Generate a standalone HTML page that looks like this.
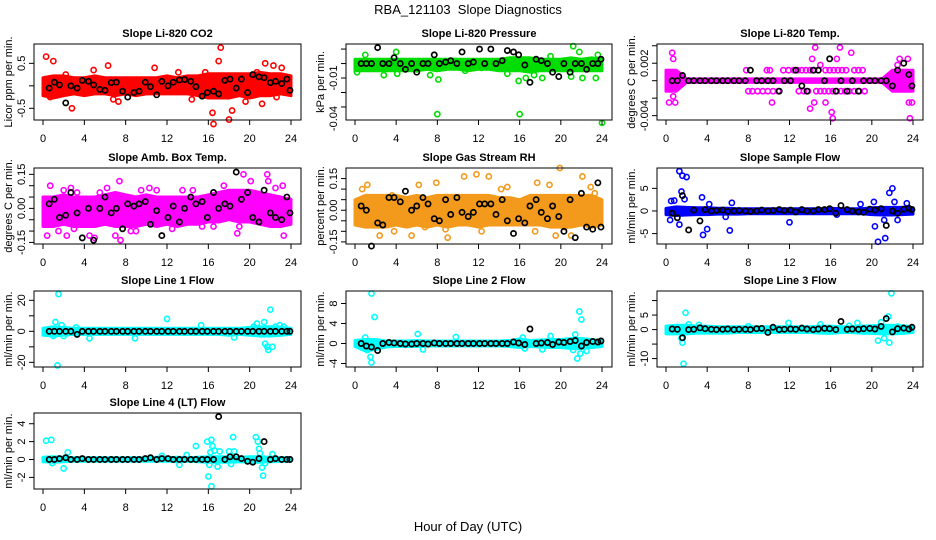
<!DOCTYPE html>
<html><head><meta charset="utf-8"><style>
html,body{margin:0;padding:0;background:#fff;}
svg{display:block;font-family:"Liberation Sans",sans-serif;}
</style></head><body>
<svg id="chart" width="936" height="540" viewBox="0 0 936 540" xmlns="http://www.w3.org/2000/svg">
<text x="468" y="14" text-anchor="middle" font-size="13">RBA_121103&#160; Slope Diagnostics</text>
<text x="468" y="531" text-anchor="middle" font-size="13">Hour of Day (UTC)</text>
</svg>
<script>
const hoursEnv=[0,1,2,3,4,5,6,7,8,9,10,11,12,13,14,15,16,17,18,19,20,21,22,23,24];
const hoursBlack=[0.6,1.1,1.6,2.2,2.7,3.3,3.8,4.4,4.9,5.5,6.0,6.6,7.1,7.7,8.2,8.8,9.3,9.9,10.4,11.0,11.5,12.1,12.6,13.2,13.7,14.3,14.8,15.4,15.9,16.5,17.0,17.6,18.1,18.7,19.2,19.8,20.3,20.9,21.4,22.0,22.5,23.1,23.6,23.9];
const xTicks=[0,4,8,12,16,20,24];

const co2Lo=[-0.22,-0.27,-0.22,-0.18,-0.22,-0.18,-0.18,-0.22,-0.18,-0.22,-0.18,-0.18,-0.18,-0.18,-0.18,-0.22,-0.27,-0.27,-0.27,-0.22,-0.27,-0.22,-0.22,-0.18,-0.22];
const co2Hi=[0.18,0.22,0.22,0.18,0.18,0.22,0.18,0.18,0.18,0.18,0.18,0.18,0.22,0.18,0.22,0.22,0.27,0.27,0.27,0.27,0.27,0.3,0.27,0.27,0.22];
const co2PtX=[0.3,1.0,0.7,2.8,6.3,6.8,10.8,15.7,16.4,16.5,17.0,17.2,18.3,18.0,20.7,21.2,21.5,22.3,23.1,22.6,7.3,4.9,2.2,13.1,14.4,19.6];
const co2PtY=[0.65,0.55,-0.25,-0.5,0.45,-0.3,0.4,0.3,-0.6,-0.85,0.55,0.85,-0.55,-0.75,0.3,-0.4,0.5,0.45,0.4,-0.25,-0.35,0.35,0.25,0.3,-0.3,-0.35];
const co2Black=[-0.05,0.08,0.02,-0.38,0.0,-0.05,0.12,0.1,0.02,-0.08,-0.1,0.07,0.08,-0.12,-0.25,-0.15,-0.12,0.08,-0.02,-0.2,0.1,0.0,0.08,0.13,0.14,0.1,-0.02,-0.23,-0.15,-0.12,-0.18,0.12,0.15,-0.05,0.15,-0.15,0.25,0.2,0.18,0.07,0.1,0.05,0.15,-0.1];
const co2Ticks=[-0.5,0,0.5];
const co2TickLabels=["-0.5","","0.5"];

const presLo=[-0.005,-0.005,-0.005,-0.005,-0.005,-0.005,-0.005,-0.004,-0.005,-0.004,-0.004,-0.005,-0.004,-0.004,-0.005,-0.005,-0.005,-0.006,-0.005,-0.005,-0.005,-0.005,-0.005,-0.005,-0.005];
const presHi=[0.003,0.003,0.003,0.003,0.003,0.003,0.003,0.003,0.003,0.003,0.003,0.003,0.003,0.003,0.003,0.004,0.004,0.004,0.003,0.003,0.003,0.004,0.003,0.004,0.003];
const presPtX=[8,16,24,0.2,1.0,2.8,4.0,4.1,7.3,8.1,15.9,16.6,17.4,18.2,21.2,21.8,22.1,23.4,23.6,21.0,10.7,14.8,12.3,19.0,6.0];
const presPtY=[-0.035,-0.035,-0.041,-0.006,0.006,-0.008,0.008,-0.007,-0.008,-0.011,-0.012,-0.01,-0.008,-0.01,0.012,0.008,-0.01,-0.01,0.006,-0.009,-0.005,-0.007,-0.003,0.005,-0.004];
const presBlack=[0,0,0,0.011,0,0,0.004,0,-0.004,0,-0.006,0,0,0.006,0,0.001,0.002,0,0.008,0,0.001,0.01,0,0.01,0,0.002,0.009,0.008,0.006,-0.001,-0.013,0.003,0.002,0,-0.006,-0.009,0,-0.006,0,0,-0.004,0,0,0.003];
const presTicks=[0.01,0,-0.01,-0.02,-0.03];
const presTickLabels=["","","-0.01","",""];

const tempLo=[-0.0012,-0.0012,-0.0002,-0.0002,-0.0002,-0.0002,-0.0002,-0.0002,-0.0002,-0.0002,-0.0002,-0.0002,-0.0002,-0.0002,-0.0002,-0.0002,-0.0002,-0.0002,-0.0002,-0.0002,-0.0002,-0.0002,-0.0012,-0.0012,-0.0012];
const tempHi=[0.0012,0.0012,0.0002,0.0002,0.0002,0.0002,0.0002,0.0002,0.0002,0.0002,0.0002,0.0002,0.0002,0.0002,0.0002,0.0002,0.0002,0.0002,0.0002,0.0002,0.0002,0.0002,0.0012,0.0012,0.0012];
const tempPtX=[7.8,9.8,10.1,11.4,11.9,12.4,12.8,13.2,13.6,14.0,14.4,14.8,15.5,15.9,16.3,16.7,17.1,17.5,18.3,18.7,19.1,8.0,8.4,8.9,9.4,9.9,10.4,10.9,12.9,13.4,13.8,14.6,15.0,15.4,15.8,16.2,16.6,17.0,17.4,17.8,18.3,18.8,19.3,0.6,0.7,0.7,0.3,0.9,10.3,14.2,14.5,14.0,14.4,15.5,16.1,16.2,16.9,18.0,16.6,22.7,23.5,23.7,23.6,23.9,22.5,15.0];
const tempPtY=[0.0012,0.0012,0.0012,0.0012,0.0012,0.0012,0.0012,0.0012,0.0012,0.0012,0.0012,0.0012,0.0012,0.0012,0.0012,0.0012,0.0012,0.0012,0.0012,0.0012,0.0012,-0.0012,-0.0012,-0.0012,-0.0012,-0.0012,-0.0012,-0.0012,-0.0012,-0.0012,-0.0012,-0.0012,-0.0012,-0.0012,-0.0012,-0.0012,-0.0012,-0.0012,-0.0012,-0.0012,-0.0012,-0.0012,-0.0012,0.0032,0.0025,-0.0018,-0.0025,-0.0025,-0.0025,0.0025,0.0038,-0.0032,-0.0025,-0.0025,-0.0036,-0.0043,0.0038,0.0032,0.0025,0.0025,0.0025,-0.0043,-0.0025,-0.0025,0.0018,0.0018];
const tempBlack=[0,0,0.0006,0,0,0,0,0,0,0,0,0,0,0,0.0012,0,0,0,0,-0.0012,0,0,0.0012,-0.0006,-0.0012,0.0012,0.0012,0,0.0025,-0.0012,0,-0.0012,0,-0.0012,0,0,0,0,0,-0.0006,0.0012,0.002,0.0007,-0.0006];
const tempTicks=[0.004,0.002,0,-0.002,-0.004];
const tempTickLabels=["","0.002","","","-0.004"];

const ambLo=[-0.08,-0.08,-0.07,-0.08,-0.08,-0.08,-0.07,-0.08,-0.08,-0.08,-0.07,-0.08,-0.07,-0.08,-0.07,-0.07,-0.06,-0.06,-0.05,-0.06,-0.06,-0.07,-0.08,-0.08,-0.07];
const ambHi=[0.05,0.05,0.06,0.05,0.05,0.05,0.06,0.07,0.06,0.05,0.06,0.05,0.05,0.05,0.05,0.05,0.06,0.07,0.08,0.08,0.08,0.07,0.06,0.05,0.04];
const ambPtX=[0.4,0.7,2.0,2.3,2.7,3.3,4.5,5.0,7.4,7.5,7.0,10.3,15.4,18.8,19.4,21.7,21.8,23.2,23.3,20.1,19.0,6.2,12.5,9.5,14.5,1.5,3.0,8.5,11.0,13.5,16.5,17.5,22.5,5.5,9.0];
const ambPtY=[-0.12,0.1,0.08,-0.12,0.09,0.07,-0.12,-0.13,0.12,-0.14,-0.12,0.09,-0.08,-0.11,0.15,0.15,0.12,0.1,-0.12,0.12,-0.08,0.09,-0.09,0.08,0.08,-0.1,-0.09,-0.1,0.08,0.08,-0.08,0.1,0.09,0.07,-0.1];
const ambBlack=[0.02,0.04,-0.04,-0.03,0.07,-0.02,-0.13,0.0,-0.14,0.0,0.05,-0.02,0.0,-0.09,0.02,0.01,0.02,0.03,-0.07,-0.01,-0.12,-0.04,0.01,-0.06,0.0,0.05,0.02,0.03,-0.04,0.07,0.0,0.02,0.01,0.16,0.04,0.07,-0.04,-0.06,0.08,-0.02,-0.04,-0.05,0.05,-0.02];
const ambTicks=[-0.15,-0.1,-0.05,0,0.05,0.1,0.15];
const ambTickLabels=["-0.15","","","0.00","","","0.15"];

const rhLo=[-0.07,-0.08,-0.08,-0.08,-0.07,-0.08,-0.07,-0.08,-0.07,-0.08,-0.07,-0.07,-0.08,-0.07,-0.07,-0.07,-0.07,-0.07,-0.07,-0.08,-0.08,-0.08,-0.07,-0.08,-0.07];
const rhHi=[0.05,0.07,0.07,0.07,0.07,0.06,0.07,0.06,0.07,0.07,0.07,0.07,0.07,0.07,0.06,0.06,0.05,0.07,0.07,0.07,0.07,0.07,0.07,0.07,0.05];
const rhPtX=[0.7,1.2,2.4,3.6,3.8,5.5,6.2,6.8,7.9,8.8,9.0,10.6,11.8,12.3,13.0,14.2,14.8,17.7,17.5,18.9,19.5,19.9,20.4,22.1,22.9,23.3,21.0,4.2];
const rhPtY=[0.1,0.12,-0.12,0.07,-0.1,-0.12,0.12,-0.08,0.13,-0.09,-0.13,0.16,0.17,-0.1,0.16,0.1,0.11,0.13,-0.1,0.12,-0.12,0.2,-0.08,0.16,0.11,0.08,-0.12,0.02];
const rhBlack=[0.02,0.0,-0.17,-0.06,-0.07,0.06,0.06,0.04,0.09,0.0,0.02,0.06,0.03,-0.04,-0.05,0.05,-0.02,0.06,-0.01,-0.03,-0.01,0.03,0.03,0.03,-0.02,0.05,-0.05,-0.11,-0.04,-0.06,0.02,0.05,-0.01,-0.04,0.02,-0.03,-0.1,0.05,-0.13,0.08,-0.08,-0.09,0.13,-0.08];
const rhTicks=[-0.15,-0.1,-0.05,0,0.05,0.1,0.15];
const rhTickLabels=["-0.15","","","0.00","","","0.15"];

const sampLo=[-0.8,-1.0,-0.9,-0.8,-0.8,-0.7,-0.7,-0.7,-0.6,-0.6,-0.6,-0.6,-0.6,-0.6,-0.6,-0.6,-0.6,-0.6,-0.6,-0.6,-0.8,-0.9,-0.9,-0.8,-0.7];
const sampHi=[0.6,0.9,0.8,0.7,0.7,0.6,0.6,0.5,0.5,0.5,0.5,0.5,0.5,0.5,0.5,0.5,0.6,0.5,0.5,0.5,0.7,0.8,0.8,0.8,0.7];
const sampPtX=[1.3,1.6,2.0,1.5,1.8,3.5,4.2,0.5,0.8,0.4,1.3,3.6,4.0,6.2,6.4,12.0,20.2,20.3,20.6,21.3,21.7,22.0,22.2,21.2,22.5,23.4,18.9,5.8,16.6];
const sampPtY=[8.8,7.8,7.5,4.3,2.6,3.0,1.5,2.2,2.3,-2.0,-3.0,-5.3,-4.0,-4.3,1.8,-2.5,2.0,-3.4,-6.8,-6.0,4.0,5.0,2.0,-2.0,-2.0,1.7,1.5,-1.3,-0.8];
const sampBlack=[-0.5,-1.5,3.4,-4.2,0.2,-2.2,0.3,0.0,0.1,0.2,-0.1,0.0,0.1,0.0,-0.1,0.0,0.2,0.0,0.1,0.3,0.1,0.2,-0.2,0.3,0.0,0.0,0.3,0.3,0.5,-0.5,1.2,0.3,0.0,-0.2,-0.3,0.4,0.2,0.5,-3.2,0.0,-0.5,0.4,0.6,0.3];
const sampTicks=[-5,0,5];
const sampTickLabels=["-5","0","5"];

const l1Lo=[-2.5,-3,-2.5,-2,-2,-2,-2,-2,-2,-2,-2,-2,-2,-2,-2,-2,-2,-2,-2.5,-2,-2.5,-3,-3,-2.5,-2];
const l1Hi=[2,3,2.5,2,2,2,2,2,2,2,2,2,2,2,2,2,2,2,2,2,2.5,3,3,2.5,2];
const l1PtX=[1.5,1.4,1.2,1.8,3.2,4.5,8.9,12.0,15.3,18.5,20.7,21.4,21.5,21.8,21.7,22.0,22.2,22.5,22.9,23.3,20.4,1.0,2.0];
const l1PtY=[24,-22,6,4,2.5,-4.5,-4.5,8,4,-4,5,6,-8,-12,-10,14,-10,3,4,3,3,-3,-3];
const l1Black=[0,0,0,0,0,-2,0,0,0,0,0,0,0,0,0,0,0,0,0,0,0,0,0,0,0,0,0,0,0,0,0,0,0,0,0,0,0,0,0,0,0,0,0,0];
const l1Ticks=[-20,-10,0,10,20];
const l1TickLabels=["-20","","0","","20"];

const l2Lo=[-0.6,-1.5,-1.2,-0.7,-0.6,-0.6,-0.6,-0.5,-0.5,-0.5,-0.5,-0.5,-0.5,-0.5,-0.5,-0.6,-0.8,-0.6,-0.7,-0.8,-0.8,-1.0,-1.0,-0.8,-0.6];
const l2Hi=[0.6,0.8,0.8,0.5,0.5,0.5,0.6,0.5,0.5,0.5,0.5,0.5,0.5,0.5,0.5,0.6,0.9,0.6,0.7,0.8,0.8,1.0,1.0,0.8,0.6];
const l2PtX=[1.6,1.9,1.5,1.6,1.2,1.0,6.1,6.6,16.3,16.5,19.0,21.8,22.0,21.4,21.6,21.9,22.5,21.2,18.2,9.8];
const l2PtY=[10,5.3,-2.7,-3.8,-1.3,1.2,1.9,-1.2,1.2,-1.0,1.5,6.4,4.8,1.8,-3.0,-2.0,-1.5,-1.3,-1.2,1.3];
const l2Black=[0,-0.5,-0.7,-1.4,0,0.2,0.1,0,-0.1,-0.1,0,0,-0.1,0.1,0,0,0,0,0,0,0,0,0,0,0,0,0,0.3,0.1,-0.2,2.9,0,0.1,0.2,-0.2,0.3,0.2,0.4,0.6,-0.5,0.2,0.4,0.3,0.5];
const l2Ticks=[-4,0,4,8];
const l2TickLabels=["-4","0","4","8"];

const l3Lo=[-1.5,-1.5,-1.5,-1.2,-1.2,-1.2,-1.2,-1,-1,-1,-1,-1,-1,-1,-1,-1.2,-1.3,-1,-1,-1.2,-1.3,-1.5,-1.5,-1.3,-1];
const l3Hi=[1.2,1.5,1.5,1.2,1.2,1,1,1,1,1,1,1,1,1,1,1.2,1.2,1,1,1.2,1.3,1.5,1.5,1.3,1];
const l3PtX=[1.7,1.6,1.5,1.9,2.2,3.2,11.9,15.0,17.8,18.6,20.6,20.9,21.2,21.6,21.7,21.9,8.0,22.5];
const l3PtY=[-11.8,-4.5,-3,5.8,1.8,1.6,2.3,1.8,1.3,2.3,-3.8,2.5,-3,4.5,-4.5,12.5,1.1,1.0];
const l3Black=[0.2,0.1,-2.8,0,0.1,0.6,0.3,0.1,0,0.1,0.2,0,0.1,0.1,0,0.3,0.4,-1,0.8,0,0.1,0.2,0.1,0.5,0.2,0,0.2,0.4,0.3,0,2.8,0.1,0.2,0.1,0.3,0.4,0.2,1.1,3.8,-0.8,0.3,0.5,0.2,0.8];
const l3Ticks=[-10,-5,0,5,10];
const l3TickLabels=["-10","","0","5",""];

const l4Lo=[-0.25,-0.3,-0.25,-0.2,-0.2,-0.2,-0.2,-0.2,-0.2,-0.2,-0.2,-0.2,-0.2,-0.25,-0.2,-0.25,-0.3,-0.3,-0.3,-0.25,-0.3,-0.3,-0.25,-0.2,-0.2];
const l4Hi=[0.25,0.3,0.25,0.2,0.2,0.2,0.2,0.2,0.2,0.2,0.2,0.25,0.2,0.25,0.2,0.25,0.3,0.3,0.3,0.25,0.3,0.3,0.25,0.2,0.2];
const l4PtX=[0.3,0.8,2.0,2.4,0.9,11.5,13.2,13.9,14.8,15.9,16.1,16.0,16.3,16.2,16.3,16.4,16.6,16.9,17.1,18.0,18.2,18.4,18.5,20.6,20.8,20.9,21.0,21.2,21.3,21.5,22.2,19.8];
const l4PtY=[2.1,2.2,-1.0,0.8,-0.4,0.4,-0.6,0.5,1.5,2.0,-0.6,-1.9,-3.0,0.8,2.2,1.5,1.0,-0.8,0.9,0.9,-0.5,2.5,0.9,2.5,2.0,1.2,0.7,-0.9,-1.8,-0.4,0.6,-0.2];
const l4Black=[0,0,0.1,0.2,0,0,0.1,0,0,0,0,0,0,0,0,0,0,0.1,0.2,0,0.1,0.1,0,0,0,0,0,0,0,0,4.8,0,0.3,0.3,0.1,-0.2,-0.3,0.1,2.0,0,0.1,0,0,0];
const l4Ticks=[-2,0,2,4];
const l4TickLabels=["-2","0","2","4"];

const NS="http://www.w3.org/2000/svg";
const svg=document.getElementById('chart');
const colLeft=[34,346,657], colRight=[301,612,923];
const rowTop=[44,168,291,413], rowBot=[120,244,367,489];

const panels=[
 {key:'co2',title:'Slope Li-820 CO2',ylab:'Licor ppm per min.',c:0,r:0,dom:[-0.76,0.93],color:'#ff0000',lo:co2Lo,hi:co2Hi,px:co2PtX,py:co2PtY,blk:co2Black,ticks:co2Ticks,labs:co2TickLabels},
 {key:'pressure',title:'Slope Li-820 Pressure',ylab:'kPa per min.',c:1,r:0,dom:[-0.039,0.0135],color:'#00dd00',lo:presLo,hi:presHi,px:presPtX,py:presPtY,blk:presBlack,ticks:presTicks,labs:presTickLabels,extraLab:[-0.038,'-0.04']},
 {key:'temp',title:'Slope Li-820 Temp.',ylab:'degrees C per min.',c:2,r:0,dom:[-0.0045,0.0042],color:'#ff00ff',lo:tempLo,hi:tempHi,px:tempPtX,py:tempPtY,blk:tempBlack,ticks:tempTicks,labs:tempTickLabels},
 {key:'amb-temp',title:'Slope Amb. Box Temp.',ylab:'degrees C per min.',c:0,r:1,dom:[-0.157,0.178],color:'#ff00ff',lo:ambLo,hi:ambHi,px:ambPtX,py:ambPtY,blk:ambBlack,ticks:ambTicks,labs:ambTickLabels},
 {key:'rh',title:'Slope Gas Stream RH',ylab:'percent per min.',c:1,r:1,dom:[-0.16,0.2],color:'#f39a1c',lo:rhLo,hi:rhHi,px:rhPtX,py:rhPtY,blk:rhBlack,ticks:rhTicks,labs:rhTickLabels},
 {key:'sample-flow',title:'Slope Sample Flow',ylab:'ml/min per min.',c:2,r:1,dom:[-7.3,9.5],color:'#0000ff',lo:sampLo,hi:sampHi,px:sampPtX,py:sampPtY,blk:sampBlack,ticks:sampTicks,labs:sampTickLabels},
 {key:'line1-flow',title:'Slope Line 1 Flow',ylab:'ml/min per min.',c:0,r:2,dom:[-23,26],color:'#00ffff',lo:l1Lo,hi:l1Hi,px:l1PtX,py:l1PtY,blk:l1Black,ticks:l1Ticks,labs:l1TickLabels},
 {key:'line2-flow',title:'Slope Line 2 Flow',ylab:'ml/min per min.',c:1,r:2,dom:[-4.7,10.5],color:'#00ffff',lo:l2Lo,hi:l2Hi,px:l2PtX,py:l2PtY,blk:l2Black,ticks:l2Ticks,labs:l2TickLabels},
 {key:'line3-flow',title:'Slope Line 3 Flow',ylab:'ml/min per min.',c:2,r:2,dom:[-12.9,13.3],color:'#00ffff',lo:l3Lo,hi:l3Hi,px:l3PtX,py:l3PtY,blk:l3Black,ticks:l3Ticks,labs:l3TickLabels},
 {key:'line4-flow',title:'Slope Line 4 (LT) Flow',ylab:'ml/min per min.',c:0,r:3,dom:[-3.3,5.2],color:'#00ffff',lo:l4Lo,hi:l4Hi,px:l4PtX,py:l4PtY,blk:l4Black,ticks:l4Ticks,labs:l4TickLabels}
];

function mk(tag,attrs,parent,text){const e=document.createElementNS(NS,tag);for(const k in attrs)e.setAttribute(k,attrs[k]);if(text!==undefined)e.textContent=text;(parent||svg).appendChild(e);return e;}

panels.forEach(p=>{
 const L=colLeft[p.c],R=colRight[p.c],T=rowTop[p.r],B=rowBot[p.r];
 const xs=h=>L+9+(R-10-(L+9))*h/24;
 const ys=v=>B-(v-p.dom[0])/(p.dom[1]-p.dom[0])*(B-T);
 const g=mk('g',{});
 
 
 const t=mk('text',{x:(L+R)/2,y:T-7,'text-anchor':'middle','font-size':11,'font-weight':'bold'},g,p.title);
 
 
 let d='';
 hoursEnv.forEach((h,i)=>{d+=(i?'L':'M')+xs(h).toFixed(1)+','+ys(p.hi[i]).toFixed(1);});
 for(let i=hoursEnv.length-1;i>=0;i--){d+='L'+xs(hoursEnv[i]).toFixed(1)+','+ys(p.lo[i]).toFixed(1);}
 d+='Z';
 const env=mk('path',{d:d,fill:p.color,stroke:p.color,'stroke-width':3,'stroke-linejoin':'round'},g);
 
 
 for(let i=0;i<Math.min(p.px.length,p.py.length);i++){
  const c=mk('circle',{cx:xs(p.px[i]),cy:ys(p.py[i]),r:2.6,fill:'none',stroke:p.color,'stroke-width':1.6},g);
  
  
 }
 for(let i=0;i<Math.min(hoursBlack.length,p.blk.length);i++){
  const c=mk('circle',{cx:xs(hoursBlack[i]),cy:ys(p.blk[i]),r:2.6,fill:'none',stroke:'#000','stroke-width':1.7},g);
  
  
 }
 const box=mk('rect',{x:L,y:T,width:R-L,height:B-T,fill:'none',stroke:'#000','stroke-width':1},g);
 
 
 mk('line',{x1:xs(xTicks[0]),x2:xs(xTicks[xTicks.length-1]),y1:B,y2:B,stroke:'#000'},g);
 xTicks.forEach(v=>{
  mk('line',{x1:xs(v),x2:xs(v),y1:B,y2:B+5,stroke:'#000'},g);
  const tl=mk('text',{x:xs(v),y:B+22,'text-anchor':'middle','font-size':11},g,String(v));
  
  
 });
 const tv=p.ticks.map(ys).filter(y=>y>=T-1&&y<=B+1);
 mk('line',{x1:L,x2:L,y1:Math.min(...tv),y2:Math.max(...tv),stroke:'#000'},g);
 p.ticks.forEach((v,i)=>{
  const y=ys(v); if(y<T-1||y>B+1)return;
  mk('line',{x1:L-5,x2:L,y1:y,y2:y,stroke:'#000'},g);
  if(p.labs[i]){
   const tl=mk('text',{x:0,y:0,transform:`translate(${L-9},${y}) rotate(-90)`,'text-anchor':'middle','font-size':11},g,p.labs[i]);
   
   
  }
 });
 if(p.extraLab){
  const tl=mk('text',{x:0,y:0,transform:`translate(${L-9},${ys(p.extraLab[0])}) rotate(-90)`,'text-anchor':'middle','font-size':11},g,p.extraLab[1]);
  
  
 }
 const yl=mk('text',{x:0,y:0,transform:`translate(${L-22},${(T+B)/2}) rotate(-90)`,'text-anchor':'middle','font-size':11},g,p.ylab);
 
 
});
</script>
</body></html>
